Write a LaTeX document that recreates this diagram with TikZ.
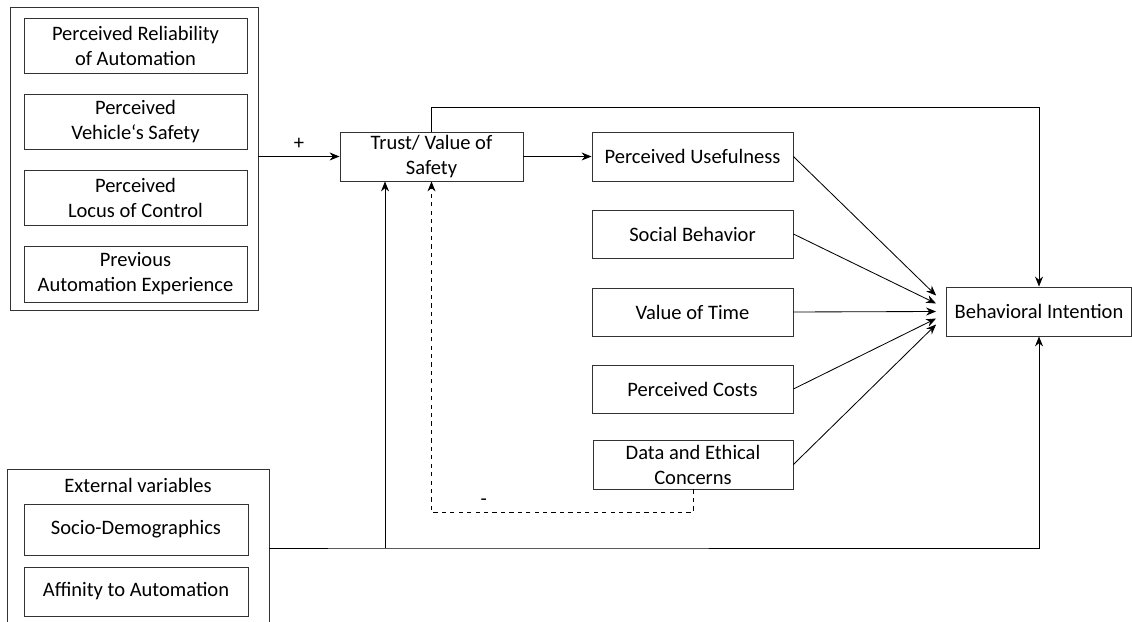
\documentclass[tikz,border=0pt]{standalone}
\usepackage{fontspec}
\setmainfont{Carlito}
\usetikzlibrary{arrows.meta}
\newcommand{\pxu}{0.025cm}

\begin{document}
\begin{tikzpicture}[x=0.025cm,y=-0.025cm,>={Stealth[length=10*\pxu,width=8*\pxu]},line width=0.6pt,
  font=\fontsize{14.6}{17.8}\selectfont,
  bx/.style={draw=black!80,inner sep=0pt,align=center,minimum height=49*\pxu},
  inb/.style={bx,minimum width=223*\pxu},
  grp/.style={draw=black!80,inner sep=0pt}]
  \useasboundingbox (0,0) rectangle (1132,622);
  \clip (0,0) rectangle (1132,622);
  % left group
  \node[grp,minimum width=248*\pxu,minimum height=303*\pxu] (grp) at (134,158.5) {};
  \node[inb,minimum height=55*\pxu] (rel) at (135.5,46)  {Perceived Reliability\\of Automation};
  \node[inb,minimum height=55*\pxu] (veh) at (135.5,121.5){Perceived\\Vehicle‘s Safety};
  \node[inb,minimum height=55*\pxu] (loc) at (135.5,197.5){Perceived\\Locus of Control};
  \node[inb,minimum height=56*\pxu] (prev) at (135.5,274){Previous\\Automation Experience};
  % external variables
  \node[grp,minimum width=262*\pxu,minimum height=172*\pxu] (ext) at (138,555) {};
  \node (extl) at (138,485) {External variables};
  \node[inb,minimum width=224*\pxu,minimum height=51*\pxu] (soc) at (136,529.5) {Socio-Demographics};
  \node[inb,minimum width=224*\pxu] (aff) at (136,591.5) {Affinity to Automation};
  % middle and right
  \node[bx,minimum width=183*\pxu] (trust) at (431.5,156.5) {Trust/ Value of\\Safety};
  \node[bx,minimum width=201*\pxu] (pu) at (692.5,156.5) {Perceived Usefulness};
  \node[bx,minimum width=201*\pxu,minimum height=48*\pxu] (sb) at (692.5,234) {Social Behavior};
  \node[bx,minimum width=201*\pxu,minimum height=48*\pxu] (vt) at (692.5,312) {Value of Time};
  \node[bx,minimum width=201*\pxu,minimum height=48*\pxu] (pc) at (692.5,389) {Perceived Costs};
  \node[bx,minimum width=200*\pxu] (de) at (693,464.5) {Data and Ethical\\Concerns};
  \node[bx,minimum width=185*\pxu] (bi) at (1039,311.5) {Behavioral Intention};
  \coordinate (h1) at ([xshift=-10*\pxu,yshift=16*\pxu]bi.west);
  \coordinate (h2) at ([xshift=-10*\pxu,yshift=8*\pxu]bi.west);
  \coordinate (h3) at ([xshift=-10*\pxu]bi.west);
  \coordinate (h4) at ([xshift=-10*\pxu,yshift=-7*\pxu]bi.west);
  \coordinate (h5) at ([xshift=-10*\pxu,yshift=-13*\pxu]bi.west);
  \coordinate (j) at (385,548);
  % connectors
  \draw[->] (grp.east |- trust) -- node[above=1pt]{+} (trust.west);
  \draw[->] (trust.east) -- (pu.west);
  \draw[->] (trust.north) -- ++(0,-24) -| (bi.north);
  \draw[->] (pu.east) -- (h1);
  \draw[->] (sb.east) -- (h2);
  \draw[->] (vt.east) -- (h3);
  \draw[->] (pc.east) -- (h4);
  \draw[->] (de.east) -- (h5);
  \draw[->] (ext.east |- j) -- (j) -| (bi.south);
  \draw[->] (j) -- (j |- trust.south);
  \draw[->,dashed] (de.south) -- ++(0,23) -| node[pos=0.4,above=1pt]{-} (trust.south);
\end{tikzpicture}
\end{document}
